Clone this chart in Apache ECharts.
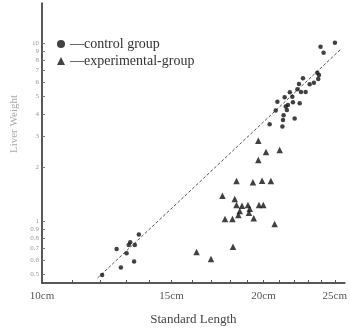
<!DOCTYPE html>
<html><head><meta charset="utf-8">
<script src="https://cdn.jsdelivr.net/npm/echarts@6/dist/echarts.min.js"></script>
<style>html,body{margin:0;padding:0;background:#fff}#c{width:350px;height:332px}</style>
</head><body><div id="c"></div>
<script>
// Standard length (cm) and liver weight (g)
const controlLength = [12.07,12.63,12.80,13.03,13.12,13.18,13.37,13.34,13.54,
  25.01,23.91,24.14,23.67,23.79,23.74,23.42,23.11,22.63,22.35,22.24,22.49,22.82,
  21.72,21.89,21.37,20.89,21.93,22.40,21.44,21.59,20.78,21.52,21.30,22.05,21.26,20.39,21.22];
const controlWeight = [0.497,0.696,0.547,0.658,0.733,0.759,0.733,0.591,0.838,
  10.04,9.53,8.82,6.81,6.61,6.28,5.98,5.86,6.34,5.89,5.50,5.31,5.31,
  5.28,4.99,4.95,4.68,4.64,4.58,4.39,4.48,4.17,4.20,3.93,3.76,3.69,3.49,3.39];
const expLength = [19.68,20.16,19.68,21.04,18.38,19.35,19.91,20.47,17.59,18.28,18.38,18.70,
  19.05,19.16,19.72,19.99,18.57,19.11,18.49,17.73,18.15,19.40,20.71,18.18,16.22,16.97];
const expWeight = [2.825,2.442,2.201,2.505,1.678,1.650,1.684,1.678,1.387,1.329,1.230,1.219,
  1.230,1.172,1.230,1.230,1.138,1.113,1.081,1.026,1.026,1.035,0.962,0.717,0.670,0.612];
const fitLength = [11.9, 25.5];
const fitWeight = [0.478, 9.26];

const xTickValues = [10,11,12,13,14,15,16,17,18,19,20,21,22,23,24,25];
const xLabelValues = [10,15,20,25];
const xLabelTexts = ['10cm','15cm','20cm','25cm'];
const yLabelValues = [0.5,0.6,0.7,0.8,0.9,1,2,3,4,5,6,7,8,9,10];
const yLabelTexts = ['0.5','0.6','0.7','0.8','0.9','1','2','3','4','5','6','7','8','9','10'];

const lg = Math.log10;
const pts = (xs, ys) => xs.map((x, i) => [lg(x), lg(ys[i])]);
const findText = (v, vals, texts) => {
  let best = 0;
  vals.forEach((t, i) => { if (Math.abs(lg(t) - v) < Math.abs(lg(vals[best]) - v)) best = i; });
  return texts[best];
};
const serif = 'Liberation Serif';

const chart = echarts.init(document.getElementById('c'), null, {renderer: 'canvas'});
chart.setOption({
  animation: false,
  backgroundColor: '#fff',
  grid: {left: 42, right: 5, top: 3, bottom: 49, containLabel: false},
  legend: {
    orient: 'vertical', left: 52, top: 32, itemGap: 3,
    itemWidth: 8, itemHeight: 8,
    data: [{name: 'control group', icon: 'circle'}, {name: 'experimental-group', icon: 'triangle'}],
    formatter: n => '—' + n,
    textStyle: {fontFamily: serif, fontSize: 14, color: '#333'}
  },
  xAxis: {
    type: 'value', min: lg(10), max: lg(25.8),
    splitLine: {show: false},
    axisLine: {onZero: false, lineStyle: {color: '#222', width: 1.5}},
    axisTick: {inside: true, length: 3, lineStyle: {color: '#555'}, customValues: xTickValues.map(lg)},
    axisLabel: {customValues: xLabelValues.map(lg), formatter: v => findText(v, xLabelValues, xLabelTexts),
      fontFamily: serif, fontSize: 11, color: '#555', margin: 8},
    name: 'Standard Length', nameLocation: 'middle', nameGap: 30,
    nameTextStyle: {fontFamily: serif, fontSize: 13, color: '#444'}
  },
  yAxis: {
    type: 'value', min: lg(0.448), max: lg(16.78),
    splitLine: {show: false},
    axisLine: {onZero: false, lineStyle: {color: '#222', width: 1.5}},
    axisTick: {inside: true, length: 3, lineStyle: {color: '#777'}, customValues: yLabelValues.map(lg)},
    axisLabel: {customValues: yLabelValues.map(lg), formatter: v => findText(v, yLabelValues, yLabelTexts),
      fontFamily: serif, fontSize: 7, color: '#999', margin: 3},
    name: 'Liver Weight', nameLocation: 'middle', nameGap: 18,
    nameTextStyle: {fontFamily: serif, fontSize: 11, color: '#aaa', padding: [0, 0, 0, 38]}
  },
  series: [
    {name: 'regression', type: 'line', data: pts(fitLength, fitWeight), symbol: 'none',
      lineStyle: {color: '#555', width: 1, type: [3, 2]}, z: 1, silent: true},
    {name: 'control group', type: 'scatter', data: pts(controlLength, controlWeight),
      symbol: 'circle', symbolSize: 4.5, itemStyle: {color: '#111'}, z: 3},
    {name: 'experimental-group', type: 'scatter', data: pts(expLength, expWeight),
      symbol: 'triangle', symbolSize: 6.5, itemStyle: {color: '#111'}, z: 3}
  ]
});
</script></body></html>
